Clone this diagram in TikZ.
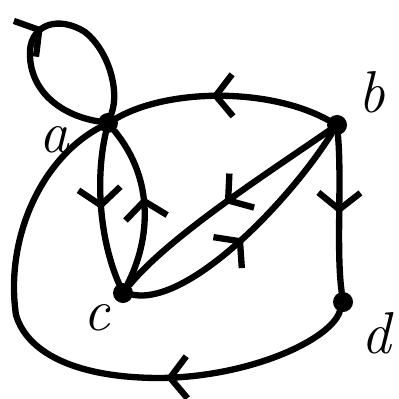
\documentclass[tikz,border=0pt]{standalone}
\usepackage{fontspec}
\usepackage{tikz}
\usetikzlibrary{arrows.meta, decorations.markings}
\tikzset{
    dot/.style={circle, fill=black, inner sep=0pt, minimum size=0.5cm},
    lbl/.style={font=\fontsize{42}{42}\selectfont\itshape},
    edge/.style={line width=4.5pt, line cap=round, line join=round},
    midarrow/.style={postaction={decorate}, decoration={markings,
        mark=at position #1 with {\arrow{Straight Barb[length=0.42cm, width=1.05cm, line width=4.5pt]}}}},
    midarrow/.default=0.5
}

\begin{document}
\begin{tikzpicture}[x=0.025cm, y=-0.025cm]
\useasboundingbox (0,0) rectangle (399,399);
% vertices
\node[dot] (a) at (108,123) {};
\node[dot] (b) at (337,125) {};
\node[dot] (c) at (123,293) {};
\node[dot] (d) at (343,302) {};
% vertex names
\node[lbl] (la) at (54,140) {a};
\node[lbl] (lb) at (372,92)  {b};
\node[lbl] (lc) at (97,318)  {c};
\node[lbl] (ld) at (376,333) {d};
% edges
\draw[edge, midarrow=0.5] (a) .. controls (60,115) and (28,90) .. (30,50)
    .. controls (32,25) and (58,15) .. (85,32)
    .. controls (108,50) and (120,90) .. (a);
\draw[edge, midarrow=0.55] (b) .. controls (270,88) and (170,88) .. (a);
\draw[edge, midarrow=0.5] (a) .. controls (95,180) and (100,240) .. (c);
\draw[edge, midarrow=0.55] (c) .. controls (150,240) and (155,180) .. (a);
\draw[edge, midarrow=0.5] (b) .. controls (280,165) and (170,235) .. (c);
\draw[edge, midarrow=0.48] (c) .. controls (190,305) and (290,200) .. (b);
\draw[edge, midarrow=0.5] (b) .. controls (342,180) and (336,250) .. (d);
\draw[edge, midarrow=0.33] (d) .. controls (330,340) and (250,377) .. (160,378)
    .. controls (80,378) and (28,355) .. (16,315)
    .. controls (5,240) and (40,160) .. (a);
\end{tikzpicture}
\end{document}
